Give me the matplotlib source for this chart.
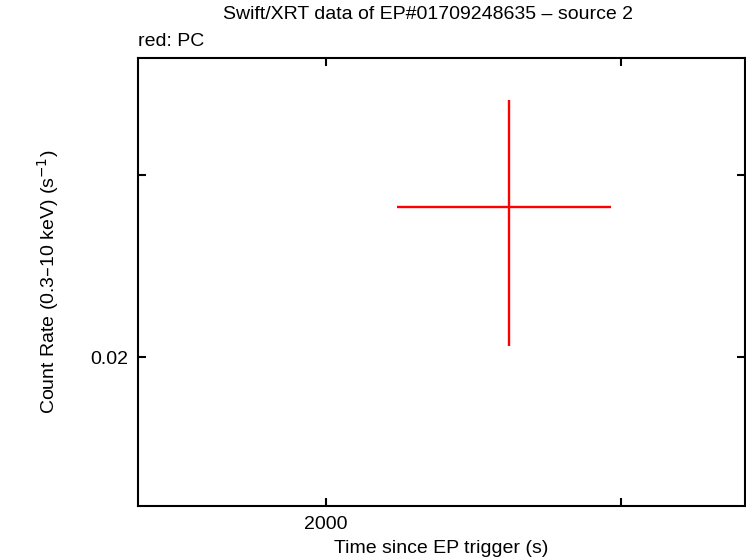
import matplotlib
matplotlib.use("Agg")
import matplotlib.pyplot as plt
from matplotlib.ticker import FixedLocator, NullLocator, FixedFormatter

plt.rcParams['font.family'] = ['Liberation Sans', 'DejaVu Sans']

# data
time = [2573.0]
time_err_lo = [368.0]
time_err_hi = [387.0]
rate = [0.0279]
rate_err_lo = [0.0074]
rate_err_hi = [0.0075]

xticks = [2000, 3000]
xticklabels = ["2000", ""]
yticks = [0.02, 0.03]
yticklabels = ["0.02", ""]

FS = 14

fig = plt.figure(figsize=(7.46, 5.58), dpi=100)
ax = fig.add_axes([138/746, 52/558, 607/746, 448/558])

ax.errorbar(time, rate, xerr=[time_err_lo, time_err_hi], yerr=[rate_err_lo, rate_err_hi],
            fmt='none', ecolor='#ff0000', elinewidth=1.7, capsize=0)

ax.set_xscale('log')
ax.set_yscale('log')
ax.set_xlim(1544, 3558)
ax.set_ylim(0.01436, 0.0389)

ax.xaxis.set_major_locator(FixedLocator(xticks))
ax.xaxis.set_major_formatter(FixedFormatter(xticklabels))
ax.xaxis.set_minor_locator(NullLocator())
ax.yaxis.set_major_locator(FixedLocator(yticks))
ax.yaxis.set_major_formatter(FixedFormatter(yticklabels))
ax.yaxis.set_minor_locator(NullLocator())

ax.tick_params(direction='in', length=6, width=1.5, top=True, right=True,
               labelsize=FS, pad=7)
for s in ax.spines.values():
    s.set_linewidth(1.5)

ax.set_xlabel("Time since EP trigger (s)", fontsize=FS, labelpad=5)
ax.set_ylabel("Count Rate (0.3\u201310 keV) (s$^{-1}$)", fontsize=FS, labelpad=21)
fig.text(428/746, 1 - 6/558, "Swift/XRT data of EP#01709248635 \u2013 source 2", ha='center', va='top', fontsize=FS)
fig.text(138/746, 1 - 33/558, "red: PC", ha='left', va='top', fontsize=FS)

fig.savefig("out.png", dpi=100)
